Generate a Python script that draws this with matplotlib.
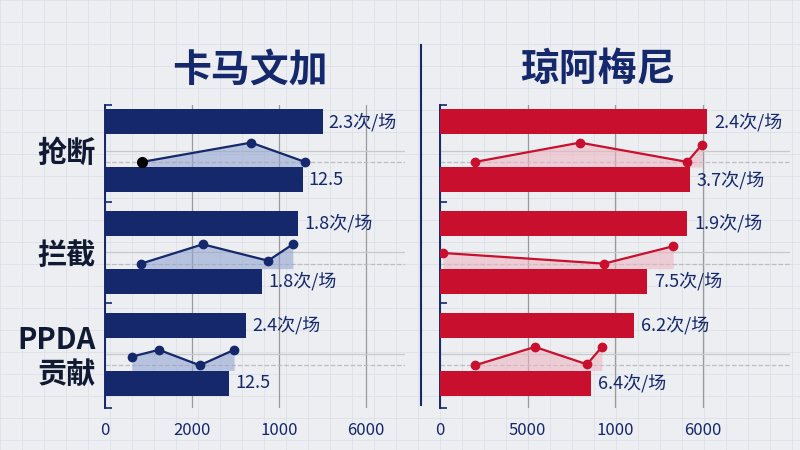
import numpy as np
import matplotlib.pyplot as plt

plt.rcParams['font.family'] = ['Noto Sans CJK SC', 'DejaVu Sans']

metrics = ['抢断', '拦截', 'PPDA\n贡献']
players = ['卡马文加', '琼阿梅尼']

# bar lengths (top bar, bottom bar) per metric
bars_cam = [(5010, 4550), (4440, 3610), (3240, 2850)]
bars_tch = [(6100, 5710), (5650, 4730), (4430, 3450)]
labels_cam = [('2.3次/场', '12.5'), ('1.8次/场', '1.8次/场'), ('2.4次/场', '12.5')]
labels_tch = [('2.4次/场', '3.7次/场'), ('1.9次/场', '7.5次/场'), ('6.2次/场', '6.4次/场')]

# small trend lines between the bars: x values and heights (0 low .. 1 high)
trend_x_cam = [[850, 3360, 4600], [830, 2250, 3750, 4320], [620, 1240, 2180, 2970]]
trend_h_cam = [[0.0, 1.0, 0.0], [0.0, 1.0, 0.15, 1.0], [0.45, 0.8, 0.0, 0.8]]
trend_x_tch = [[800, 3200, 5650, 5990], [70, 3750, 5330], [800, 2170, 3360, 3700]]
trend_h_tch = [[0.0, 1.0, 0.0, 0.9], [0.55, 0.0, 0.9], [0.0, 0.95, 0.05, 0.95]]

ticks = [0, 2000, 4000, 6000]
tick_labels_cam = ['0', '2000', '1000', '6000']
tick_labels_tch = ['0', '5000', '1000', '6000']

navy = '#14286b'
red = '#c8102e'
bg = '#eceef1'

fig = plt.figure(figsize=(8, 4.5), dpi=100, facecolor=bg)

# faint background grid
bgax = fig.add_axes([0, 0, 1, 1], zorder=-5)
bgax.set_facecolor(bg)
bgax.set_xlim(0, 800)
bgax.set_ylim(450, 0)
for v in np.arange(0, 800, 22):
    bgax.axvline(v, color='#dde0e5', lw=0.6)
for v in np.arange(0, 450, 22):
    bgax.axhline(v, color='#dde0e5', lw=0.6)
bgax.plot([421, 421], [45, 405], color=navy, lw=1.5)
bgax.axis('off')


def panel(rect, xmax, bars, labels, tx, th, color, fill, tlabels, first_black):
    ax = fig.add_axes(rect)
    ax.set_facecolor('none')
    ax.set_xlim(0, xmax)
    ax.set_ylim(2.53, -0.45)
    for t in ticks:
        ax.axvline(t, color='#9a9a9a', lw=0.9, zorder=0)
    for i in range(3):
        ax.axhline(i, color='#c8c8c8', lw=0.9, zorder=0)
        ax.axhline(i + 0.11, color='#bdbdbd', lw=0.9, ls='--', zorder=0)
        top, bot = bars[i]
        ax.barh([i - 0.285, i + 0.285], [top, bot], height=0.245, color=color, zorder=3)
        ax.text(top + xmax * 0.02, i - 0.285, labels[i][0], va='center', fontsize=13,
                color=navy, zorder=5)
        ax.text(bot + xmax * 0.02, i + 0.285, labels[i][1], va='center', fontsize=13,
                color=navy, zorder=5)
        ys = [i + 0.11 - 0.19 * h for h in th[i]]
        ax.fill_between(tx[i], ys, i + 0.16, color=fill, alpha=0.55, zorder=2, lw=0)
        ax.plot(tx[i], ys, color=color, lw=1.6, marker='o', ms=6, zorder=4)
    if first_black:
        ax.plot(tx[0][0], 0.11, 'o', color='black', ms=7, zorder=5)
    ax.set_xticks(ticks)
    ax.set_xticklabels(tlabels, fontsize=12, color=navy)
    ax.tick_params(axis='x', length=0, pad=10)
    ax.set_yticks([-0.45, 0.5, 1.5, 2.53])
    ax.set_yticklabels([])
    ax.tick_params(axis='y', length=5, color=navy, width=1.2, direction='in')
    for s in ['top', 'right', 'bottom']:
        ax.spines[s].set_visible(False)
    ax.spines['left'].set_color(navy)
    ax.spines['left'].set_linewidth(1.4)
    return ax


panel([105 / 800, 42 / 450, 300 / 800, 303 / 450], 6900, bars_cam, labels_cam,
      trend_x_cam, trend_h_cam, navy, '#8da0cf', tick_labels_cam, True)
panel([440 / 800, 42 / 450, 350 / 800, 303 / 450], 8000, bars_tch, labels_tch,
      trend_x_tch, trend_h_tch, red, '#eeb2bf', tick_labels_tch, False)

fig.text(250 / 800, 1 - 70 / 450, players[0], ha='center', va='center', fontsize=28,
         fontweight='bold', color=navy)
fig.text(598 / 800, 1 - 70 / 450, players[1], ha='center', va='center', fontsize=28,
         fontweight='bold', color=navy)
for name, yp in zip(metrics, [153, 255, 357]):
    fig.text(96 / 800, 1 - yp / 450, name, ha='right', va='center', fontsize=21,
             fontweight='bold', color='#111a33', linespacing=1.15)

fig.savefig('out.png', dpi=100, facecolor=bg)
